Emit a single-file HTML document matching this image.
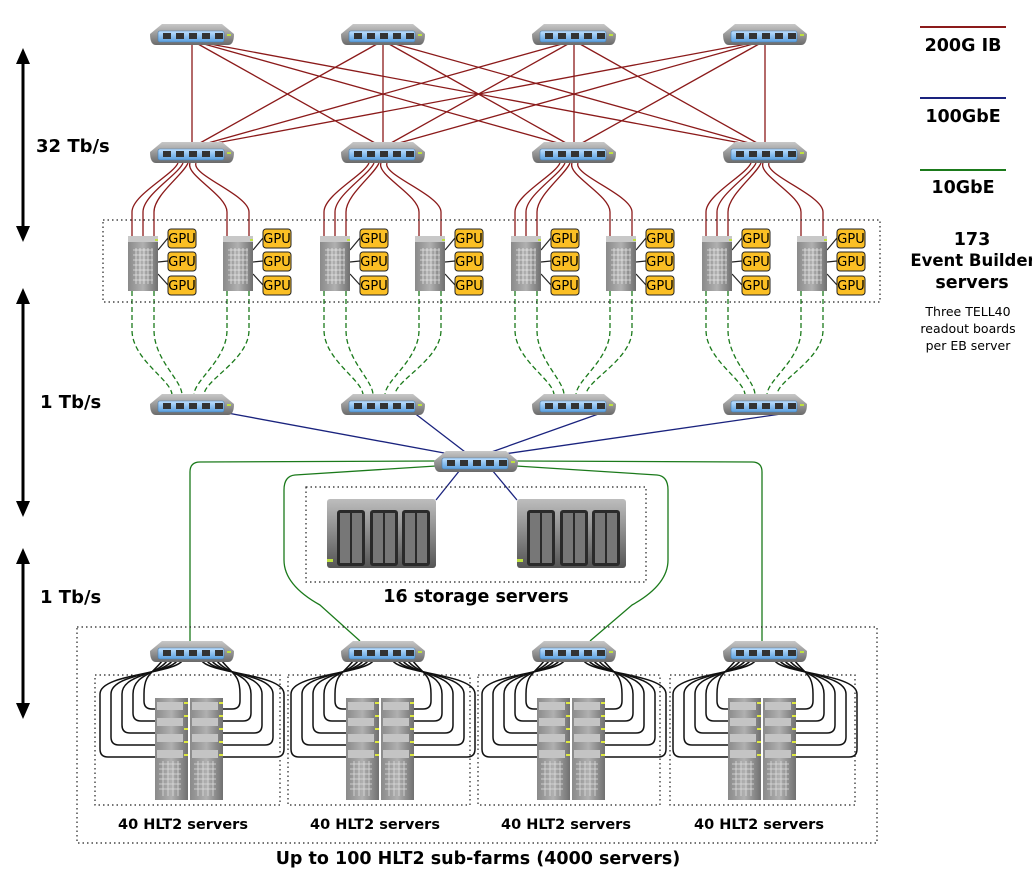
<!DOCTYPE html>
<html><head><meta charset="utf-8"><style>
body{margin:0;background:#fff;width:1032px;height:877px;overflow:hidden}
svg{display:block}
text{font-family:"DejaVu Sans","Liberation Sans",sans-serif;font-weight:bold;fill:#000}
text.n{font-weight:normal}
</style></head><body>
<svg id="s" width="1032" height="877" viewBox="0 0 1032 877" xmlns="http://www.w3.org/2000/svg">
<defs>
<linearGradient id="sg" x1="0" y1="0" x2="0" y2="1"><stop offset="0" stop-color="#c8c8c8"/><stop offset="1" stop-color="#6a6a6a"/></linearGradient>
<linearGradient id="bg" x1="0" y1="0" x2="0" y2="1"><stop offset="0" stop-color="#bfe0ff"/><stop offset="1" stop-color="#5aa0e0"/></linearGradient>
<linearGradient id="rg" x1="0" y1="0" x2="1" y2="0"><stop offset="0" stop-color="#8a8a8a"/><stop offset=".5" stop-color="#b0b0b0"/><stop offset="1" stop-color="#707070"/></linearGradient>
<linearGradient id="stg" x1="0" y1="0" x2="0" y2="1"><stop offset="0" stop-color="#bdbdbd"/><stop offset="1" stop-color="#555"/></linearGradient>
<g id="sw">
<path d="M-30,-11 L30,-11 L42,-1 Q42,10 36,10 L-36,10 Q-42,10 -42,-1 Z" fill="url(#sg)"/>
<rect x="-34" y="-4" width="66" height="11" rx="2" fill="url(#bg)" stroke="#4a7fb0" stroke-width=".6"/>
<g fill="#333"><rect x="-29" y="-2" width="8" height="6"/><rect x="-16" y="-2" width="8" height="6"/><rect x="-3" y="-2" width="8" height="6"/><rect x="10" y="-2" width="8" height="6"/><rect x="23" y="-2" width="8" height="6"/></g>
<rect x="35" y="-1" width="4" height="2" fill="#bde040"/>
</g>
<g id="eb">
<rect x="0" y="0" width="30" height="55" fill="url(#rg)"/>
<rect x="0" y="0" width="30" height="6" fill="#c8c8c8"/>
<path d="M5,14 h20 M5,19 h20 M5,24 h20 M5,29 h20 M5,34 h20 M5,39 h20 M5,44 h20 M8,12v36 M12,12v36 M16,12v36 M20,12v36 M24,12v36" stroke="#fff" stroke-width=".8" opacity=".7"/>
<rect x="27" y="3" width="3" height="2" fill="#bde040"/>
</g>
<g id="gpu"><rect x="0" y="0" width="28" height="19" rx="3" fill="#fbbf24" stroke="#222" stroke-width="1"/></g>
<g id="rack">
<rect x="0" y="0" width="33" height="102" fill="url(#rg)"/>
<g fill="#c4c4c4"><rect x="2" y="4" width="26" height="8"/><rect x="2" y="20" width="26" height="8"/><rect x="2" y="36" width="26" height="8"/><rect x="2" y="52" width="26" height="8"/></g>
<g fill="#dde840"><rect x="29" y="4" width="4" height="2"/><rect x="29" y="17" width="4" height="2"/><rect x="29" y="30" width="4" height="2"/><rect x="29" y="43" width="4" height="2"/><rect x="29" y="56" width="4" height="2"/></g>
<path d="M4,66h22M4,71h22M4,76h22M4,81h22M4,86h22M4,91h22M8,63v35M13,63v35M18,63v35M23,63v35" stroke="#ddd" stroke-width=".8"/>
</g>
<g id="stor">
<rect x="0" y="0" width="109" height="69" rx="3" fill="url(#stg)"/>
<g fill="#2a2a2a"><rect x="10" y="11" width="28" height="56" rx="3"/><rect x="43" y="11" width="28" height="56" rx="3"/><rect x="75" y="11" width="28" height="56" rx="3"/></g>
<g fill="#777"><rect x="13" y="14" width="10" height="50"/><rect x="25" y="14" width="10" height="50"/><rect x="46" y="14" width="10" height="50"/><rect x="58" y="14" width="10" height="50"/><rect x="78" y="14" width="10" height="50"/><rect x="90" y="14" width="10" height="50"/></g>
<rect x="0" y="60" width="6" height="3" fill="#bde040"/>
</g>
</defs>
<g id="lines" fill="none"></g>
<g id="icons"></g>

<g fill="none" stroke="#222" stroke-width="1.2" stroke-dasharray="1.5,3">
<rect x="103" y="220" width="777" height="82"/>
<rect x="306" y="487" width="340" height="95"/>
<rect x="77" y="627" width="800" height="216"/>
<rect x="95" y="675" width="185" height="130"/>
<rect x="288" y="675" width="182" height="130"/>
<rect x="478" y="675" width="182" height="130"/>
<rect x="670" y="675" width="185" height="130"/>
</g>

<g stroke="#000" stroke-width="3" fill="#000">
<line x1="23" y1="60" x2="23" y2="230"/><path d="M16,64 L23,48 L30,64Z" stroke="none"/><path d="M16,226 L23,242 L30,226Z" stroke="none"/>
<line x1="23" y1="300" x2="23" y2="505"/><path d="M16,304 L23,288 L30,304Z" stroke="none"/><path d="M16,501 L23,517 L30,501Z" stroke="none"/>
<line x1="23" y1="560" x2="23" y2="707"/><path d="M16,564 L23,548 L30,564Z" stroke="none"/><path d="M16,703 L23,719 L30,703Z" stroke="none"/>
</g>
<text x="36" y="152" font-size="18">32 Tb/s</text>
<text x="40" y="408" font-size="18">1 Tb/s</text>
<text x="40" y="603" font-size="18">1 Tb/s</text>

<line x1="920" y1="27" x2="1006" y2="27" stroke="#8b1a1a" stroke-width="2"/>
<line x1="920" y1="98" x2="1006" y2="98" stroke="#1a237e" stroke-width="2"/>
<line x1="920" y1="170" x2="1006" y2="170" stroke="#1b7a1b" stroke-width="2"/>
<g text-anchor="middle" font-size="17.5">
<text x="963" y="51">200G IB</text>
<text x="963" y="122">100GbE</text>
<text x="963" y="193">10GbE</text>
<text x="972" y="245">173</text>
<text x="973" y="266" font-size="16.5">Event Builder</text>
<text x="972" y="288">servers</text>
<text x="476" y="602" font-size="17.5">16 storage servers</text>
<text x="478" y="864" font-size="17.5">Up to 100 HLT2 sub-farms (4000 servers)</text>
</g>
<g text-anchor="middle" font-size="14.5">
<text x="183" y="829">40 HLT2 servers</text>
<text x="375" y="829">40 HLT2 servers</text>
<text x="566" y="829">40 HLT2 servers</text>
<text x="759" y="829">40 HLT2 servers</text>
</g>
<g text-anchor="middle" font-size="12.5">
<text class="n" x="968" y="316">Three TELL40</text>
<text class="n" x="968" y="333">readout boards</text>
<text class="n" x="968" y="350">per EB server</text>
</g>
<g id="gputext" font-size="13"></g>
</svg>
<script>
const NS="http://www.w3.org/2000/svg";
const L=document.getElementById('lines'),I=document.getElementById('icons'),G=document.getElementById('gputext');
function el(p,t,a){const e=document.createElementNS(NS,t);for(const k in a)e.setAttribute(k,a[k]);p.appendChild(e);return e;}
function use(id,x,y){el(I,'use',{href:'#'+id,x:x,y:y});}
function path(d,c,w,dash){const a={d:d,stroke:c,'stroke-width':w||1.3};if(dash)a['stroke-dasharray']=dash;el(L,'path',a);}
const X=[192,383,574,765],RED='#8b1a1a',BLUE='#1a237e',GR='#1b7a1b';
X.forEach((a,i)=>X.forEach((b,j)=>{path(`M${a+(j-i)*6},44 L${b+(i-j)*8},143`,RED);}));
const SX=[[128,223],[320,415],[511,606],[702,797]];
X.forEach((sx,k)=>{
 SX[k].forEach((x,m)=>{
  const xs=m==0?[x+4,x+15,x+26]:[x+4,x+26];
  xs.forEach((px,n)=>{const st=sx-14+(m?12+n*6:n*5);path(`M${st},163 C${st-5},175 ${px},195 ${px},212 L${px},237`,RED);});
  use('eb',x,236);
  [229,252,276].forEach((gy,g)=>{path(`M${x+30},${250+g*12} L${x+40},${gy+9}`,'#222',1.2);use('gpu',x+40,gy);
   el(G,'text',{x:x+54,y:gy+14,'text-anchor':'middle','class':'n'}).textContent='GPU';});
  [x+4,x+26].forEach((px,n)=>{const t=sx-20+m*22+n*10;path(`M${px},291 L${px},330 C${px},360 ${t},380 ${t},395`,GR,1.3,'5,3');});
 });
 use('sw',sx,35);use('sw',sx,153);use('sw',sx,405);
 path(`M${sx+30},412 L${476+(k-1.5)*14},455`,BLUE);
 const hy=652;
 for(let i=0;i<5;i++){
  const ox=sx-92+i*11,by=757-i*12,st=sx-10-i*5;
  path(`M${st},${hy+9} C${st-10},${hy+22} ${ox},${hy+22} ${ox},${hy+42} L${ox},${by-8} Q${ox},${by} ${ox+8},${by} L${sx-35},${by}`,'#111',1.5);
  const ox2=sx+92-i*11,st2=sx+10+i*5;
  path(`M${st2},${hy+9} C${st2+10},${hy+22} ${ox2},${hy+22} ${ox2},${hy+42} L${ox2},${by-8} Q${ox2},${by} ${ox2-8},${by} L${sx+30},${by}`,'#111',1.5);
 }
 use('rack',sx-37,698);use('rack',sx-2,698);
 use('sw',sx,hy);
});
path('M460,470 L436,500',BLUE);path('M492,470 L517,500',BLUE);
path('M436,461 L200,462 Q190,462 190,472 L190,641',GR);
path('M516,461 L752,462 Q762,462 762,472 L762,641',GR);
path('M436,466 L295,475 Q284,476 284,490 L284,560 Q284,585 320,605 L360,641',GR);
path('M516,466 L657,475 Q668,476 668,490 L668,560 Q668,585 632,605 L590,641',GR);
use('stor',327,499);use('stor',517,499);
use('sw',476,462);
</script>
</body></html>
